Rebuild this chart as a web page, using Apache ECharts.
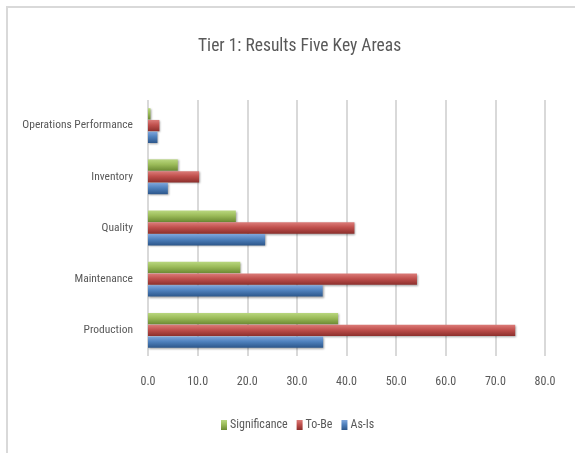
<!DOCTYPE html>
<html>
<head>
<meta charset="utf-8">
<script src="https://cdn.jsdelivr.net/npm/echarts@6/dist/echarts.min.js"></script>
<style>
  html, body { margin: 0; padding: 0; background: #fff; }
  #frame { position: absolute; left: 6px; top: 6px; width: 580px; height: 460px;
           border-top: 2px solid #d9d9d9; border-left: 2px solid #d9d9d9; }
  #chart { position: absolute; left: 0; top: 0; width: 575px; height: 453px; }
</style>
</head>
<body>
<div id="frame"></div>
<div id="chart"></div>
<script>
const categories = ['Production', 'Maintenance', 'Quality', 'Inventory', 'Operations Performance'];
const asIs = [35.3, 35.2, 23.6, 4.0, 1.9];
const toBe = [74.0, 54.2, 41.6, 10.3, 2.3];
const significance = [38.3, 18.6, 17.7, 6.0, 0.5];
const xTicks = [0, 10, 20, 30, 40, 50, 60, 70, 80];

const FONT = '"Liberation Sans Narrow", "Roboto Condensed", "Liberation Sans", sans-serif';

function shaded(top, mid, bottom) {
  return new echarts.graphic.LinearGradient(0, 0, 0, 1, [
    { offset: 0, color: top },
    { offset: 0.45, color: mid },
    { offset: 1, color: bottom }
  ]);
}

const barStyle = (top, mid, bottom) => ({
  color: shaded(top, mid, bottom),
  shadowColor: 'rgba(0,0,0,0.35)',
  shadowBlur: 2,
  shadowOffsetX: 1,
  shadowOffsetY: 1
});

const chart = echarts.init(document.getElementById('chart'));
chart.setOption({
  animation: false,
  title: {
    text: 'Tier 1: Results Five Key Areas',
    left: 193,
    top: 33,
    textStyle: { fontFamily: FONT, fontSize: 17.5, fontWeight: 'normal', color: '#595959' }
  },
  legend: {
    data: ['Significance', 'To-Be', 'As-Is'],
    bottom: 17,
    left: 216,
    itemWidth: 6,
    itemHeight: 10,
    itemGap: 9,
    icon: 'rect',
    textStyle: { fontFamily: FONT, fontSize: 12, color: '#595959', padding: [0, 0, 0, -2] }
  },
  grid: { left: 148, right: 30, top: 100, bottom: 97 },
  xAxis: {
    type: 'value',
    min: xTicks[0],
    max: xTicks[xTicks.length - 1],
    interval: 10,
    axisLine: { show: false },
    axisTick: { show: false },
    axisLabel: {
      margin: 20,
      fontFamily: FONT, fontSize: 12, color: '#595959',
      formatter: v => v.toFixed(1)
    },
    splitLine: { lineStyle: { color: '#d9d9d9', width: 2 } }
  },
  yAxis: {
    type: 'category',
    data: categories,
    axisLine: { show: false },
    axisTick: { show: false },
    axisLabel: { margin: 15, fontFamily: FONT, fontSize: 11.5, color: '#595959' }
  },
  series: [
    {
      name: 'Significance', type: 'bar', data: significance,
      barGap: '4%', barCategoryGap: '32%',
      itemStyle: barStyle('#b9d77f', '#9bbb59', '#6c8a33')
    },
    {
      name: 'To-Be', type: 'bar', data: toBe,
      itemStyle: barStyle('#dc7c79', '#c0504d', '#8c2f2c')
    },
    {
      name: 'As-Is', type: 'bar', data: asIs,
      itemStyle: barStyle('#7ea6dc', '#4f81bd', '#2c568a')
    }
  ]
});
</script>
</body>
</html>
